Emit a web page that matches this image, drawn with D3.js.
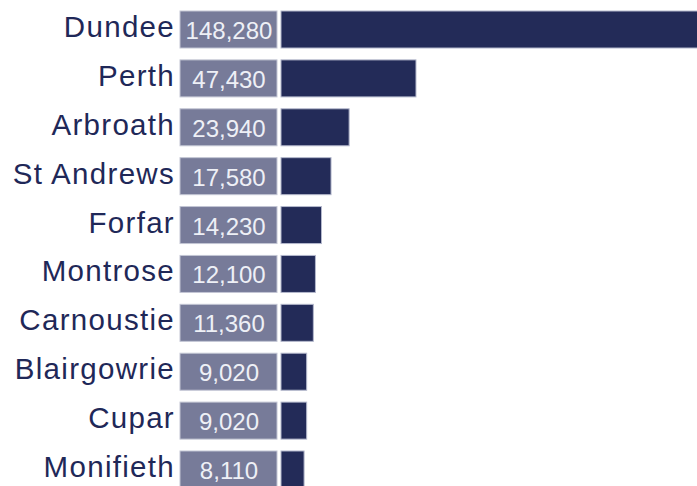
<!DOCTYPE html>
<html>
<head>
<meta charset="utf-8">
<script src="https://cdn.jsdelivr.net/npm/d3@7"></script>
<style>
  html, body { margin: 0; padding: 0; background: #ffffff; }
  svg { display: block; }
</style>
</head>
<body>
<svg id="chart" width="697" height="486"></svg>
<script>
// Population of towns in the Tayside area
const towns = ["Dundee", "Perth", "Arbroath", "St Andrews", "Forfar", "Montrose",
               "Carnoustie", "Blairgowrie", "Cupar", "Monifieth"];
const population = [148280, 47430, 23940, 17580, 14230, 12100, 11360, 9020, 9020, 8110];

const data = towns.map((t, i) => ({ town: t, value: population[i] }));

const svg = d3.select("#chart");
const fmt = d3.format(",");

const y = d3.scaleBand()
  .domain(towns)
  .range([11, 488])
  .paddingInner(0.243)
  .paddingOuter(0);

const x = d3.scaleLinear()
  .domain([0, 148280])
  .range([281, 703]);

const labelBoxX = 180, labelBoxW = 97;

const row = svg.selectAll("g.row")
  .data(data)
  .join("g")
  .attr("class", "row")
  .attr("transform", d => `translate(0,${y(d.town)})`);

// value box
row.append("rect")
  .attr("x", labelBoxX)
  .attr("y", 0)
  .attr("width", labelBoxW)
  .attr("height", y.bandwidth())
  .attr("fill", "#777b99")
  .attr("stroke", "#c3c6d4")
  .attr("stroke-width", 1);

// population bar
row.append("rect")
  .attr("x", x(0))
  .attr("y", 0)
  .attr("width", d => x(d.value) - x(0))
  .attr("height", y.bandwidth())
  .attr("fill", "#232b58")
  .attr("stroke", "#b4b8cc")
  .attr("stroke-width", 1);

// value text
row.append("text")
  .attr("x", labelBoxX + labelBoxW / 2 + 0.5)
  .attr("y", 28)
  .attr("text-anchor", "middle")
  .attr("font-family", "'Liberation Sans', Arial, sans-serif")
  .attr("font-size", 24)
  .attr("fill", "#eef0f6")
  .text(d => fmt(d.value));

// town name
row.append("text")
  .attr("x", 175)
  .attr("y", 26)
  .attr("text-anchor", "end")
  .attr("font-family", "'Liberation Sans', Arial, sans-serif")
  .attr("font-size", 29.5)
  .attr("letter-spacing", 1.3)
  .attr("fill", "#1f2858")
  .text(d => d.town);
</script>
</body>
</html>
